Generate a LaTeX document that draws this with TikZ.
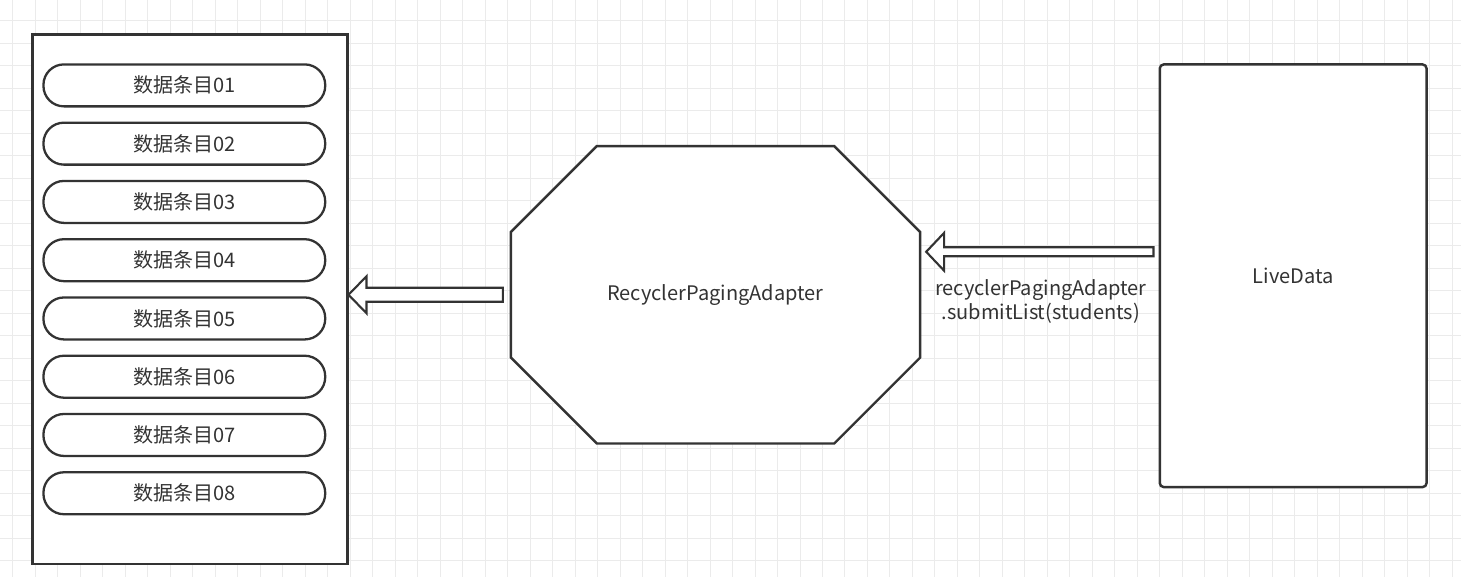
\documentclass[tikz,border=0pt]{standalone}
\usepackage{fontspec}
\setmainfont{Noto Sans CJK SC}
\usetikzlibrary{calc,backgrounds}
\definecolor{ink}{HTML}{333333}
\definecolor{gridgray}{HTML}{EBEBEB}
\pgfdeclarelayer{grid}
\pgfsetlayers{grid,background,main}

\tikzset{
  shapeline/.style={draw=ink, line width=1.4pt, fill=white},
  itempill/.style={shapeline, line width=1.3pt, rounded corners=0.41cm,
    minimum width=5.64cm, minimum height=0.84cm, inner sep=0pt},
  hollowarrow/.style={draw=ink, line width=1.2pt, fill=white, line join=miter},
  gridline/.style={draw=gridgray, line width=0.5pt},
}

% hollow block arrow: tail, tip, half shaft, half head
\newcommand\blockarrow[4]{%
  \filldraw[hollowarrow] let \p1=(#1), \p2=(#2) in
    (\x1,\y1+#3) -- (\x2+0.36cm,\y1+#3) -- (\x2+0.36cm,\y1+#4) -- (\x2,\y1)
    -- (\x2+0.36cm,\y1-#4) -- (\x2+0.36cm,\y1-#3) -- (\x1,\y1-#3) -- cycle;}

\begin{document}
\begin{tikzpicture}[x=0.02cm,y=-0.02cm,
  every node/.style={font=\fontsize{11.4}{13.6}\selectfont, text=ink}]
\begin{pgfonlayer}{grid}
\fill[white] (0,0) rectangle (1461,577);
\foreach \i in {0,...,64} \draw[gridline] (12.5+22.5*\i,0) -- (12.5+22.5*\i,577);
\foreach \j in {1,...,25} \draw[gridline] (0,-2+22.5*\j) -- (1461,-2+22.5*\j);
\end{pgfonlayer}
\useasboundingbox (0,0) rectangle (1461,577);

% list with its items
\node[shapeline, line width=1.5pt, minimum width=6.3cm, minimum height=10.6cm] (list) at (189.5,299) {};
\foreach \i in {1,...,8}
  \node[itempill] (item\i) at (184,{85+58.3*(\i-1)}) {数据条目0\i};

% adapter
\node[minimum width=8.18cm, minimum height=5.94cm, inner sep=0pt] (adapter) at (715.5,294.5) {RecyclerPagingAdapter};
\begin{pgfonlayer}{background}
\filldraw[shapeline] ($(adapter.north west)+(86,0)$) -- ($(adapter.north east)+(-86,0)$)
  -- ($(adapter.north east)+(0,86)$) -- ($(adapter.south east)+(0,-86)$)
  -- ($(adapter.south east)+(-86,0)$) -- ($(adapter.south west)+(86,0)$)
  -- ($(adapter.south west)+(0,-86)$) -- ($(adapter.north west)+(0,86)$) -- cycle;
\end{pgfonlayer}

% livedata
\node[shapeline, rounded corners=0.08cm, minimum width=5.34cm, minimum height=8.46cm] (live) at (1293.5,275.5) {LiveData};

% connectors
\coordinate (tail1) at ($(adapter.west)+(-8,0)$);
\blockarrow{tail1}{list.east |- tail1}{0.14cm}{0.37cm}
\coordinate (tail2) at ($(live.west)+(-5,-24)$);
\blockarrow{tail2}{$(adapter.east |- tail2)+(6,0)$}{0.09cm}{0.38cm}
\node[align=center] (call) at (1041,301) {recyclerPagingAdapter\\.submitList(students)};
\end{tikzpicture}
\end{document}
